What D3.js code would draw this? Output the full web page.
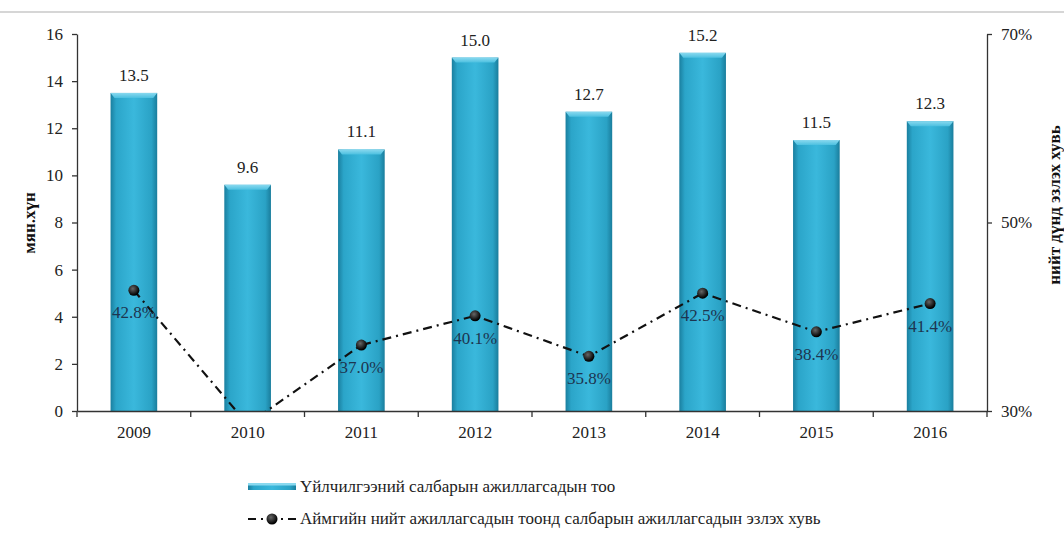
<!DOCTYPE html>
<html><head><meta charset="utf-8">
<script src="https://cdn.jsdelivr.net/npm/d3@7"></script>
<style>body{margin:0;background:#fff}svg{display:block}svg text{font-family:"Liberation Serif","Times New Roman","DejaVu Serif",serif}</style>
</head><body><svg id="c" width="1064" height="533"></svg>
<script>
const years = ["2009","2010","2011","2012","2013","2014","2015","2016"];
const workers = [13.5, 9.6, 11.1, 15.0, 12.7, 15.2, 11.5, 12.3];
const shares = [42.8, 28.6, 37.0, 40.1, 35.8, 42.5, 38.4, 41.4];
const leftTicks = [0,2,4,6,8,10,12,14,16];
const rightTicks = [30,50,70];
const leftTitle = "мян.хүн";
const rightTitle = "нийт дүнд эзлэх хувь";
const legendBar = "Үйлчилгээний салбарын ажиллагсадын тоо";
const legendLine = "Аймгийн нийт ажиллагсадын тоонд салбарын ажиллагсадын эзлэх хувь";

const FONT = "Liberation Serif";
const FS = 17;
const svg = d3.select("#c");
const L = 77, R = 987, T = 34, B = 411;
const x = d3.scaleBand().domain(years).range([L, R]).padding(0);
const yL = d3.scaleLinear().domain([0,16]).range([B, T]);
const yR = d3.scaleLinear().domain([30,70]).range([B, T]);
const bw = x.bandwidth()*0.41;

const defs = svg.append("defs");
const g = defs.append("linearGradient").attr("id","bar").attr("x1","0").attr("x2","1").attr("y1","0").attr("y2","0");
[[0,"#1a7f9f"],[0.12,"#2ba5c9"],[0.5,"#3ab8dc"],[0.88,"#2aa2c5"],[1,"#1a7d9c"]].forEach(s=>g.append("stop").attr("offset",s[0]).attr("stop-color",s[1]));
const gt = defs.append("linearGradient").attr("id","cap").attr("x1","0").attr("x2","0").attr("y1","0").attr("y2","1");
gt.append("stop").attr("offset",0).attr("stop-color","#8ad9ef");
gt.append("stop").attr("offset",1).attr("stop-color","#4cc0e0");
const rg = defs.append("radialGradient").attr("id","dot").attr("cx","0.4").attr("cy","0.35").attr("r","0.6");
rg.append("stop").attr("offset",0).attr("stop-color","#666");
rg.append("stop").attr("offset",1).attr("stop-color","#000");
defs.append("clipPath").attr("id","clip").append("rect").attr("x",L).attr("y",0).attr("width",R-L).attr("height",B);

svg.append("line").attr("x1",0).attr("x2",1064).attr("y1",12).attr("y2",12).attr("stroke","#c8c8c8").attr("stroke-width",1.5);

const bars = svg.append("g");
years.forEach((yr,i)=>{
  const cx = x(yr)+x.bandwidth()/2;
  bars.append("rect").attr("x",cx-bw/2).attr("y",yL(workers[i])).attr("width",bw).attr("height",B-yL(workers[i])).attr("fill","url(#bar)");
  bars.append("path").attr("d",`M${cx-bw/2},${yL(workers[i])} h${bw} l-4,5 h${-(bw-8)} z`).attr("fill","url(#cap)");
  bars.append("text").attr("x",cx).attr("y",yL(workers[i])-12).attr("text-anchor","middle").attr("font-family",FONT).attr("font-size",FS).attr("fill","#222").text(workers[i].toFixed(1));
});

const axL = svg.append("g").attr("transform",`translate(${L},0)`).call(d3.axisLeft(yL).tickValues(leftTicks).tickSize(5).tickSizeOuter(0));
const axR = svg.append("g").attr("transform",`translate(${R},0)`).call(d3.axisRight(yR).tickValues(rightTicks).tickFormat(d=>d+"%").tickSize(5).tickSizeOuter(0));
const axB = svg.append("g").attr("transform",`translate(0,${B})`).call(d3.axisBottom(x).tickSize(0).tickSizeOuter(0));
[axL,axR,axB].forEach(a=>{a.attr("font-family",FONT);a.select(".domain").attr("stroke","#333").attr("stroke-width",1.3);a.selectAll("line").attr("stroke","#333").attr("stroke-width",1.3);a.selectAll("text").attr("font-family",FONT).attr("font-size",FS).attr("fill","#222");});
axL.selectAll("text").attr("dx",-6);
axR.selectAll("text").attr("dx",6);
axB.selectAll("text").attr("dy",24);
svg.append("g").selectAll("line").data(years.slice(1)).join("line")
  .attr("x1",d=>x(d)).attr("x2",d=>x(d)).attr("y1",B).attr("y2",B+6).attr("stroke","#333").attr("stroke-width",1.3);
svg.append("line").attr("x1",L).attr("x2",L).attr("y1",B).attr("y2",B+6).attr("stroke","#333").attr("stroke-width",1.3);
svg.append("line").attr("x1",R).attr("x2",R).attr("y1",B).attr("y2",B+6).attr("stroke","#333").attr("stroke-width",1.3);

const lg = svg.append("g").attr("clip-path","url(#clip)");
const line = d3.line().x((d,i)=>x(years[i])+x.bandwidth()/2).y(d=>yR(d));
lg.append("path").datum(shares).attr("d",line).attr("fill","none").attr("stroke","#111").attr("stroke-width",2.2).attr("stroke-dasharray","9,5,2,5");
const [dMin, dMax] = yR.domain();
shares.forEach((v,i)=>{
  if (v < dMin || v > dMax) return; // off-scale point: hidden like the reference
  const cx = x(years[i])+x.bandwidth()/2;
  lg.append("circle").attr("cx",cx).attr("cy",yR(v)).attr("r",5.5).attr("fill","url(#dot)");
  svg.append("text").attr("x",cx).attr("y",yR(v)+28).attr("text-anchor","middle").attr("font-family",FONT).attr("font-size",FS).attr("fill","#1d3550").text(v.toFixed(1)+"%");
});

svg.append("text").attr("transform","translate(35,223) rotate(-90)").attr("text-anchor","middle").attr("font-family",FONT).attr("font-size",17).attr("font-weight","bold").attr("fill","#111").text(leftTitle);
svg.append("text").attr("transform","translate(1060,205) rotate(-90)").attr("text-anchor","middle").attr("font-family",FONT).attr("font-size",17).attr("font-weight","bold").attr("fill","#111").text(rightTitle);

const lgd = svg.append("g");
lgd.append("rect").attr("x",248).attr("y",483).attr("width",48).attr("height",7).attr("fill","url(#bar)");
lgd.append("rect").attr("x",248).attr("y",483).attr("width",48).attr("height",2.5).attr("fill","#8ad9ef");
lgd.append("text").attr("x",300).attr("y",492).attr("font-family",FONT).attr("font-size",FS).attr("fill","#222").text(legendBar);
lgd.append("line").attr("x1",248).attr("x2",296).attr("y1",519).attr("y2",519).attr("stroke","#111").attr("stroke-width",2.2).attr("stroke-dasharray","8,5,2,5");
lgd.append("circle").attr("cx",272).attr("cy",519).attr("r",5.5).attr("fill","url(#dot)");
lgd.append("text").attr("x",300).attr("y",524).attr("font-family",FONT).attr("font-size",FS).attr("fill","#222").text(legendLine);
</script></body></html>
